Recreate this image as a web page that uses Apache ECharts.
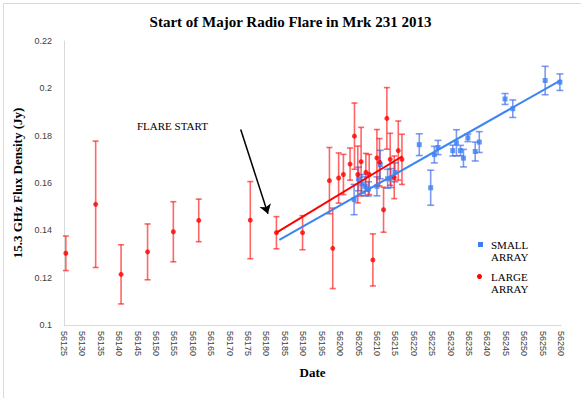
<!DOCTYPE html>
<html>
<head>
    <meta charset="utf-8">
    <title>Start of Major Radio Flare in Mrk 231 2013</title>
    <style>
        html, body { margin: 0; padding: 0; background: #fff; }
        #chart { width: 581px; height: 398px; }
    </style>
</head>
<body>
<div id="chart"></div>
<script src="https://cdn.jsdelivr.net/npm/echarts@6/dist/echarts.min.js"></script>
<script>
    // large array (red) - date (MJD), flux density (Jy), error
    var redDates = [56125.5, 56133.6, 56140.5, 56147.7, 56154.7, 56161.6, 56175.6, 56182.7, 56189.8,
        56197.1, 56198.0, 56199.6, 56200.9, 56202.7, 56203.9, 56204.8, 56205.7, 56207.0, 56207.9,
        56208.9, 56210.0, 56210.7, 56211.8, 56212.7, 56213.6, 56214.7, 56215.8, 56216.8];
    var redFlux = [0.1303, 0.151, 0.1214, 0.1309, 0.1394, 0.1442, 0.1443, 0.139, 0.139,
        0.161, 0.1324, 0.1621, 0.1636, 0.168, 0.1798, 0.1636, 0.169, 0.1645, 0.1636,
        0.1275, 0.1706, 0.1688, 0.1487, 0.1873, 0.170, 0.1624, 0.1737, 0.170];
    var redErr = [0.0073, 0.0267, 0.0125, 0.0118, 0.0127, 0.009, 0.0163, 0.0068, 0.0072,
        0.014, 0.017, 0.0106, 0.0085, 0.0068, 0.014, 0.012, 0.0145, 0.008, 0.0085,
        0.011, 0.012, 0.010, 0.0095, 0.013, 0.011, 0.009, 0.0125, 0.0106];

    // small array (blue)
    var blueDates = [56203.8, 56205.0, 56205.9, 56206.8, 56207.7, 56210.0, 56210.9, 56212.9, 56213.8,
        56214.9, 56221.5, 56224.6, 56225.6, 56226.6, 56230.6, 56231.6, 56232.7, 56233.5, 56234.7,
        56236.7, 56237.8, 56244.8, 56246.9, 56255.7, 56259.7];
    var blueFlux = [0.153, 0.1617, 0.1596, 0.1586, 0.1575, 0.1586, 0.1678, 0.1618, 0.1621,
        0.1645, 0.1762, 0.158, 0.172, 0.175, 0.1737, 0.177, 0.1737, 0.1705, 0.1791,
        0.1733, 0.1773, 0.1955, 0.1914, 0.2033, 0.2026];
    var blueErr = [0.0064, 0.005, 0.004, 0.004, 0.003, 0.004, 0.006, 0.004, 0.004,
        0.004, 0.0046, 0.0074, 0.0035, 0.003, 0.0023, 0.0055, 0.0022, 0.0037, 0.0016,
        0.004, 0.0044, 0.0023, 0.0037, 0.006, 0.0035];

    // trend lines
    var redTrendDates = [56182.7, 56216.9];
    var redTrendFlux = [0.139, 0.1713];
    var blueTrendDates = [56183.5, 56260];
    var blueTrendFlux = [0.136, 0.2035];

    // flare start arrow
    var arrowDates = [56173.0, 56180.4];
    var arrowFlux = [0.1826, 0.1470];

    var yTicks = [0.1, 0.12, 0.14, 0.16, 0.18, 0.2, 0.22];

    var serif = '"Liberation Serif", "Times New Roman", serif';
    var sans = '"Liberation Sans", Arial, sans-serif';

    function pairs(xs, ys) {
        return xs.map(function (x, i) { return [x, ys[i]]; });
    }

    function errorSeries(xs, ys, es, color, capHalf) {
        return {
            type: 'custom',
            silent: true,
            z: 2,
            data: xs.map(function (x, i) { return [x, ys[i] - es[i], ys[i] + es[i]]; }),
            encode: {x: 0, y: [1, 2]},
            renderItem: function (params, api) {
                var lo = api.coord([api.value(0), api.value(1)]);
                var hi = api.coord([api.value(0), api.value(2)]);
                var st = {stroke: color, lineWidth: 1.6};
                return {
                    type: 'group',
                    children: [
                        {type: 'line', shape: {x1: lo[0], y1: lo[1], x2: hi[0], y2: hi[1]}, style: st},
                        {type: 'line', shape: {x1: lo[0] - capHalf, y1: lo[1], x2: lo[0] + capHalf, y2: lo[1]}, style: st},
                        {type: 'line', shape: {x1: hi[0] - capHalf, y1: hi[1], x2: hi[0] + capHalf, y2: hi[1]}, style: st}
                    ]
                };
            }
        };
    }

    var myChart = echarts.init(document.getElementById('chart'), null, {renderer: 'svg'});

    var option = {
        backgroundColor: '#fff',
        animation: false,
        title: {
            text: 'Start of Major Radio Flare in Mrk 231 2013',
            left: 'center',
            top: 9,
            textStyle: {fontFamily: serif, fontSize: 15, fontWeight: 'bold', color: '#000'}
        },
        grid: {left: 64, right: 20, top: 41, bottom: 73},
        xAxis: {
            type: 'value',
            min: 56125,
            max: 56260,
            interval: 5,
            name: 'Date',
            nameLocation: 'middle',
            nameGap: 41,
            nameTextStyle: {fontFamily: serif, fontSize: 13, fontWeight: 'bold', color: '#000'},
            axisLine: {show: true, lineStyle: {color: '#d9d9d9'}},
            axisTick: {show: false},
            splitLine: {show: false},
            axisLabel: {
                rotate: -90, fontFamily: sans, fontSize: 9, color: '#404040', margin: 6,
                formatter: function (v) { return String(v); }
            }
        },
        yAxis: {
            type: 'value',
            min: yTicks[0],
            max: yTicks[yTicks.length - 1],
            interval: 0.02,
            name: '15.3 GHz Flux Density (Jy)',
            nameLocation: 'middle',
            nameGap: 37,
            nameTextStyle: {fontFamily: serif, fontSize: 13, fontWeight: 'bold', color: '#000'},
            axisLine: {show: true, lineStyle: {color: '#d9d9d9'}},
            axisTick: {show: false},
            splitLine: {show: false},
            axisLabel: {
                fontFamily: sans, fontSize: 9, color: '#404040', margin: 12,
                formatter: function (v) { return String(+v.toFixed(2)); }
            }
        },
        graphic: [
            {type: 'rect', left: 1, top: 1, shape: {width: 578, height: 395},
                style: {fill: 'none', stroke: '#d9d9d9', lineWidth: 1}, silent: true},
            {type: 'text', left: 137, top: 120,
                style: {text: 'FLARE START', font: '11px ' + serif, fill: '#000'}},
            {type: 'rect', left: 478, top: 242, shape: {width: 5, height: 5}, style: {fill: '#3d7ff2'}},
            {type: 'text', left: 491, top: 239,
                style: {text: 'SMALL\nARRAY', font: '11px ' + serif, fill: '#000', lineHeight: 12}},
            {type: 'circle', left: 477, top: 274, shape: {r: 2.5}, style: {fill: '#ff0000'}},
            {type: 'text', left: 491, top: 271,
                style: {text: 'LARGE\nARRAY', font: '11px ' + serif, fill: '#000', lineHeight: 12}}
        ],
        series: [
            errorSeries(blueDates, blueFlux, blueErr, 'rgba(70,110,235,0.7)', 3.5),
            errorSeries(redDates, redFlux, redErr, 'rgba(255,20,20,0.65)', 3),
            {
                name: 'SMALL ARRAY',
                type: 'scatter',
                symbol: 'rect',
                symbolSize: 5,
                z: 3,
                itemStyle: {color: '#3d7ff2'},
                data: pairs(blueDates, blueFlux)
            },
            {
                name: 'LARGE ARRAY',
                type: 'scatter',
                symbol: 'circle',
                symbolSize: 5,
                z: 3,
                itemStyle: {color: '#ff0000'},
                data: pairs(redDates, redFlux)
            },
            {
                type: 'line',
                silent: true,
                symbol: 'none',
                z: 4,
                lineStyle: {color: '#3d85f0', width: 2},
                data: pairs(blueTrendDates, blueTrendFlux)
            },
            {
                type: 'line',
                silent: true,
                symbol: 'none',
                z: 4,
                lineStyle: {color: '#ff0000', width: 2},
                data: pairs(redTrendDates, redTrendFlux),
                markLine: {
                    silent: true,
                    symbol: ['none', 'arrow'],
                    symbolSize: 9,
                    label: {show: false},
                    lineStyle: {color: '#000', width: 1.5, type: 'solid'},
                    itemStyle: {color: '#000'},
                    data: [[{coord: [arrowDates[0], arrowFlux[0]]}, {coord: [arrowDates[1], arrowFlux[1]]}]]
                }
            }
        ]
    };
    myChart.setOption(option, true);
</script>
</body>
</html>
